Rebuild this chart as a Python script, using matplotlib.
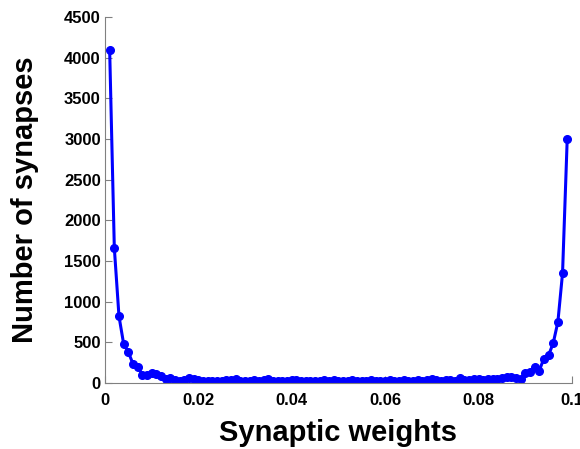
import numpy as np
import matplotlib
matplotlib.use("Agg")
import matplotlib.pyplot as plt

# histogram of synaptic weights, bin centers every 0.001
weights = np.arange(1, 100) * 0.001
counts = [
    4100, 1660, 820, 480, 380, 235, 200, 100, 100, 125,
    110, 90, 50, 60, 40, 30, 35, 60, 45, 40,
    30, 25, 25, 30, 25, 40, 35, 45, 30, 25,
    30, 40, 25, 35, 45, 30, 20, 25, 30, 40,
    35, 25, 30, 20, 25, 30, 35, 25, 40, 30,
    25, 30, 35, 25, 20, 30, 35, 30, 25, 30,
    35, 25, 30, 35, 30, 25, 35, 30, 40, 55,
    35, 30, 35, 40, 30, 60, 35, 40, 45, 55,
    40, 45, 50, 55, 60, 70, 70, 60, 50, 125,
    130, 200, 150, 300, 340, 490, 750, 1350, 3000,
]

plt.rcParams['font.family'] = ['Liberation Sans', 'DejaVu Sans']
plt.rcParams['font.weight'] = 'bold'

fig = plt.figure(figsize=(5.8, 4.49), dpi=100)
ax = fig.add_axes([0.181, 0.147, 0.805, 0.815])
ax.plot(weights, counts, '-o', color='blue', lw=2.2, ms=5.5)

ax.set_xlim(0, 0.1)
ax.set_ylim(0, 4500)
ax.set_xticks([0, 0.02, 0.04, 0.06, 0.08, 0.1])
ax.set_xticklabels(['0', '0.02', '0.04', '0.06', '0.08', '0.1'])
ax.set_yticks(np.arange(0, 4501, 500))

for side in ['top', 'right']:
    ax.spines[side].set_visible(False)
for side in ['left', 'bottom']:
    ax.spines[side].set_color('#808080')
ax.tick_params(direction='in', length=5, color='#808080', labelsize=12)
ax.tick_params(axis='x', pad=7)
ax.tick_params(axis='y', pad=3)
for lab in ax.get_xticklabels() + ax.get_yticklabels():
    lab.set_fontweight('bold')

ax.set_xlabel('Synaptic weights', fontsize=21, fontweight='bold', labelpad=8)
ax.set_ylabel('Number of synapses', fontsize=21, fontweight='bold', labelpad=18)

fig.savefig('out.png', dpi=100)
